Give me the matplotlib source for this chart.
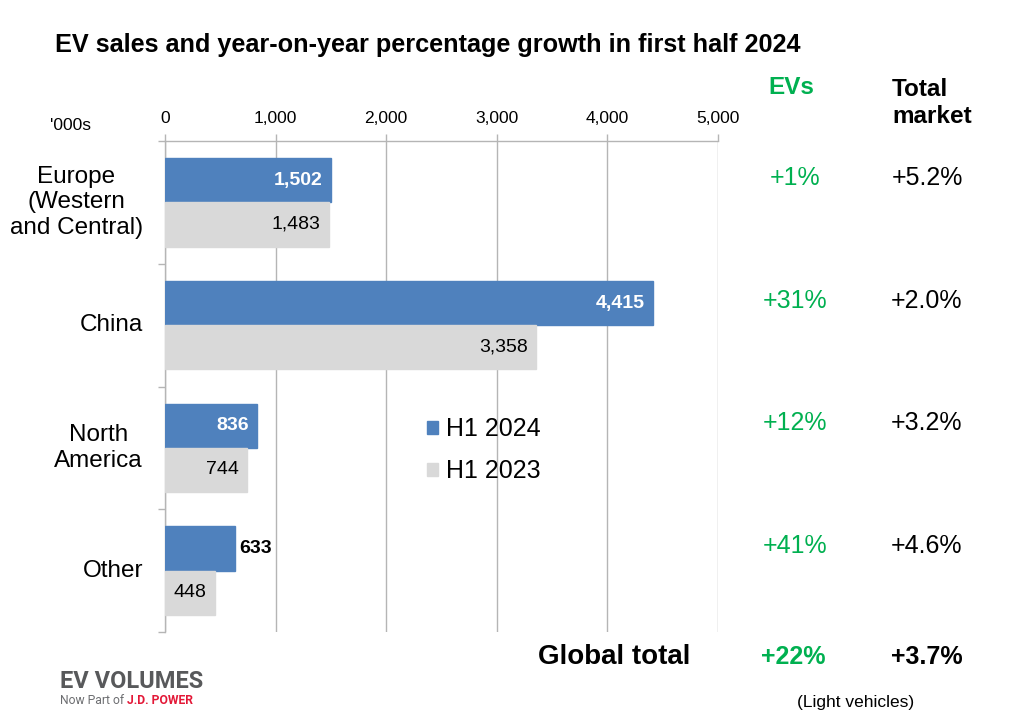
import matplotlib
matplotlib.use("Agg")
import matplotlib.pyplot as plt
from matplotlib.patches import Patch

plt.rcParams['font.family'] = ['Liberation Sans', 'DejaVu Sans']

regions = ["Europe\n(Western\nand Central)", "China", "North\nAmerica", "Other"]
h1_2024 = [1502, 4415, 836, 633]
h1_2023 = [1483, 3358, 744, 448]
ev_growth = ["+1%", "+31%", "+12%", "+41%"]
market_growth = ["+5.2%", "+2.0%", "+3.2%", "+4.6%"]
global_ev = "+22%"
global_market = "+3.7%"
xticks = [0, 1000, 2000, 3000, 4000, 5000]

BLUE = "#4f81bd"
GRAY = "#d9d9d9"
GREEN = "#00b050"
GRID = "#b5b5b5"

fig = plt.figure(figsize=(10.24, 7.24), dpi=100)
ax = fig.add_axes([165/1024, 1-632/724, (718-165)/1024, (632-141)/724])

ypos = list(range(len(regions)))
bh = 0.36
yb = [y - bh/2 for y in ypos]
yg = [y + bh/2 for y in ypos]
ax.barh(yb, h1_2024, height=bh, color=BLUE, edgecolor=BLUE, zorder=3)
ax.barh(yg, h1_2023, height=bh, color=GRAY, edgecolor=GRAY, zorder=3)

ax.set_xlim(0, 5000)
ax.set_ylim(len(regions)-0.5, -0.5)
ax.xaxis.tick_top()
ax.set_xticks(xticks)
ax.set_xticklabels([f"{v:,}" for v in xticks], fontsize=12.5)
ax.tick_params(axis='x', length=5, color=GRID, pad=6, width=1)
ax.set_yticks([i - 0.5 for i in range(len(regions)+1)])
ax.set_yticklabels([])
ax.tick_params(axis='y', length=5, color=GRID, width=1)
ax.grid(axis='x', color=GRID, lw=1, zorder=0)
for s in ['right', 'bottom']:
    ax.spines[s].set_visible(False)
for s in ['top', 'left']:
    ax.spines[s].set_color(GRID)
    ax.spines[s].set_linewidth(1)

# bar labels
for y, v in zip(yb, h1_2024):
    if v > 700:
        ax.annotate(f"{v:,}", (v, y), xytext=(-6, 0), textcoords='offset points',
                    ha='right', va='center', color='white', fontsize=14, fontweight='bold', zorder=4)
    else:
        ax.annotate(f"{v:,}", (v, y), xytext=(3, 0), textcoords='offset points',
                    ha='left', va='center', color='black', fontsize=14, fontweight='bold', zorder=4)
for y, v in zip(yg, h1_2023):
    ax.annotate(f"{v:,}", (v, y), xytext=(-6, 0), textcoords='offset points',
                ha='right', va='center', color='black', fontsize=14, zorder=4)

# category labels
trans = ax.get_yaxis_transform()
for y, lab in zip(ypos, regions):
    ax.text(-0.04, y, lab, transform=trans, ha='right', va='center', multialignment='center',
            fontsize=17.5, linespacing=1.2)

# growth columns
for y, e, m in zip(ypos, ev_growth, market_growth):
    ax.text((795-165)/553, y - 0.2, e, transform=trans, ha='center', va='center', fontsize=18, color=GREEN)
    ax.text((927-165)/553, y - 0.2, m, transform=trans, ha='center', va='center', fontsize=18, color='black')

fig.text(791/1024, 1-87/724, "EVs", ha='center', va='center', fontsize=17.5, fontweight='bold', color=GREEN)
fig.text(892/1024, 1-103/724, "Total\nmarket", ha='left', va='center', fontsize=17.5,
         fontweight='bold', linespacing=1.25)
fig.text(50/1024, 1-125/724, "'000s", ha='left', va='center', fontsize=12.5)

fig.text(690/1024, 1-657/724, "Global total", ha='right', va='center', fontsize=20, fontweight='bold')
fig.text(793/1024, 1-657/724, global_ev, ha='center', va='center', fontsize=18, fontweight='bold', color=GREEN)
fig.text(927/1024, 1-657/724, global_market, ha='center', va='center', fontsize=18, fontweight='bold')
fig.text(856/1024, 1-703/724, "(Light vehicles)", ha='center', va='center', fontsize=12.5)

fig.text(55/1024, 1-45/724, "EV sales and year-on-year percentage growth in first half 2024",
         ha='left', va='center', fontsize=18.2, fontweight='bold')

# legend
handles = [Patch(color=BLUE, label="H1 2024"), Patch(color=GRAY, label="H1 2023")]
fig.legend(handles=handles, loc='upper left', bbox_to_anchor=(414/1024, 1-405/724),
           frameon=False, fontsize=18, handlelength=0.45, handleheight=0.45,
           handletextpad=0.35, labelspacing=0.72, borderpad=0)

# logo
fig.text(60/1024, 1-681/724, "EV VOLUMES", ha='left', va='center', fontsize=17,
         fontweight='bold', color='#58595b', family=['Roboto', 'DejaVu Sans'])
t1 = fig.text(60/1024, 1-700/724, "Now Part of ", ha='left', va='center', fontsize=8.7,
              color='#6d6e71', family=['Roboto', 'DejaVu Sans'])
fig.canvas.draw()
bb = t1.get_window_extent()
fig.text(bb.x1/1024, 1-700/724, "J.D. POWER", ha='left', va='center', fontsize=8.7,
         fontweight='bold', color='#e31837', family=['Roboto', 'DejaVu Sans'])

fig.savefig("out.png", dpi=100)
